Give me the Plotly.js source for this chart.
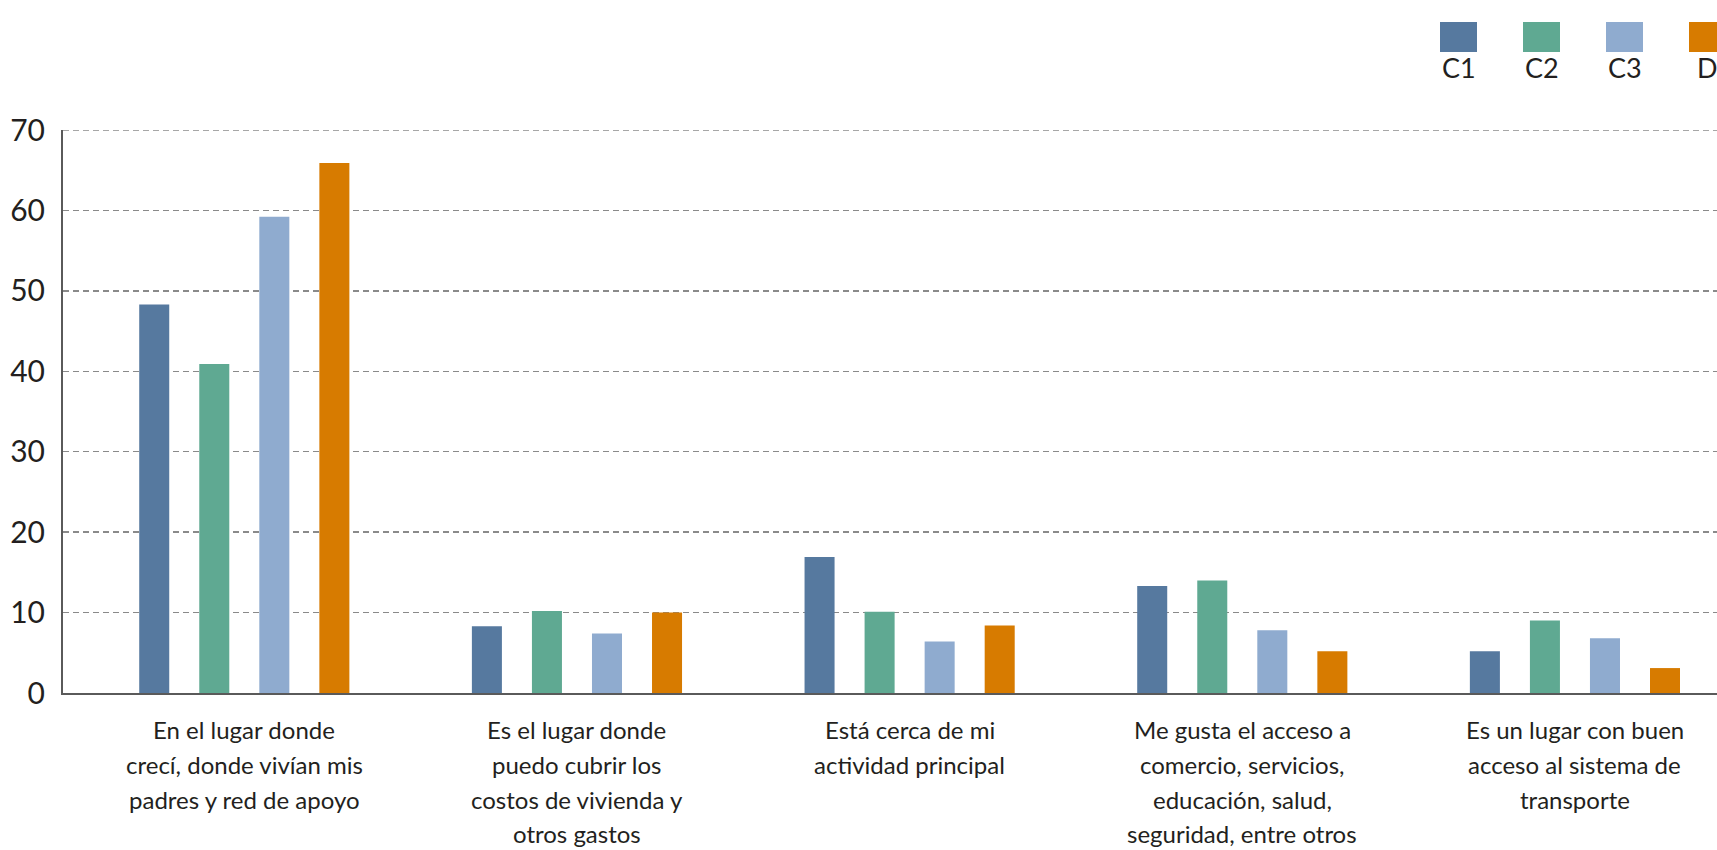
<!DOCTYPE html>
<html>
<head>
<meta charset="utf-8">
<script src="https://cdn.plot.ly/plotly-3.0.1.min.js"></script>
<style>
  html, body { margin: 0; padding: 0; background: #ffffff; }
  #chart { width: 1717px; height: 850px; }
</style>
</head>
<body>
<div id="chart"></div>
<script>
// Reasons for choosing the place of residence, % by socioeconomic group
const categories = [
  "En el lugar donde<br>crecí, donde vivían mis<br>padres y red de apoyo",
  "Es el lugar donde<br>puedo cubrir los<br>costos de vivienda y<br>otros gastos",
  "Está cerca de mi<br>actividad principal",
  "Me gusta el acceso a<br>comercio, servicios,<br>educación, salud,<br>seguridad, entre otros",
  "Es un lugar con buen<br>acceso al sistema de<br>transporte"
];
const seriesNames = ["C1", "C2", "C3", "D"];
const valuesC1 = [48.3, 8.3, 16.9, 13.3, 5.2];
const valuesC2 = [40.9, 10.2, 10.1, 14.0, 9.0];
const valuesC3 = [59.2, 7.4, 6.4, 7.8, 6.8];
const valuesD  = [65.9, 10.0, 8.4, 5.2, 3.1];
const yTickValues = [0, 10, 20, 30, 40, 50, 60, 70];

const seriesValues = [valuesC1, valuesC2, valuesC3, valuesD];
const colors = ["#56799f", "#5fa992", "#8fabcf", "#d77b00"];

const W = 1717, H = 850;
const M = { l: 63, r: 0, t: 130, b: 157 };
const plotW = W - M.l - M.r, plotH = H - M.t - M.b;
const px2x = p => (p - M.l) / plotW;
const px2y = p => (H - M.b - p) / plotH;

const FONT = "Lato, 'Open Sans', sans-serif";
const TEXT = "#231f20";
const GRID = "#8a8a8a";

const traces = seriesNames.map((name, i) => ({
  type: "bar",
  name: name,
  x: categories,
  y: seriesValues[i],
  marker: { color: colors[i], line: { width: 0 } },
  hoverinfo: "y+name"
}));

const shapes = [];
const annotations = [];

// Top gridline sits on the plot edge, so draw it explicitly
const yMax = yTickValues[yTickValues.length - 1];
shapes.push({
  type: "line", xref: "paper", yref: "y",
  x0: 0, x1: 1, y0: yMax, y1: yMax,
  line: { color: GRID, width: 1.3, dash: "6px,4px" }, layer: "below"
});

// Legend: swatch above each series name
const swatchLeft = [1440, 1523, 1606, 1689];
seriesNames.forEach((name, i) => {
  const x0 = swatchLeft[i], x1 = x0 + 37;
  shapes.push({
    type: "rect", xref: "paper", yref: "paper",
    x0: px2x(x0), x1: px2x(x1), y0: px2y(52), y1: px2y(22),
    fillcolor: colors[i], line: { width: 0 }, layer: "above"
  });
  annotations.push({
    xref: "paper", yref: "paper",
    x: px2x((x0 + x1) / 2), y: px2y(68),
    xanchor: "center", yanchor: "middle",
    text: name, showarrow: false,
    font: { family: FONT, size: 27, color: TEXT }
  });
});

// Category labels, one annotation per line for even line spacing
const lineTop = 729, linePitch = 35;
categories.forEach((cat, ci) => {
  cat.split("<br>").forEach((line, li) => {
    annotations.push({
      xref: "x", yref: "paper",
      x: ci, y: px2y(lineTop + li * linePitch),
      xanchor: "center", yanchor: "middle",
      text: line, showarrow: false,
      font: { family: FONT, size: 24, color: TEXT }
    });
  });
});

const layout = {
  width: W, height: H,
  margin: M,
  paper_bgcolor: "#ffffff",
  plot_bgcolor: "#ffffff",
  showlegend: false,
  barmode: "group",
  bargap: 0.278,
  bargroupgap: 0.5,
  font: { family: FONT, color: TEXT },
  xaxis: {
    type: "category",
    range: [-0.545, 4.427],
    showticklabels: false,
    ticks: "",
    showgrid: false,
    zeroline: false,
    showline: true,
    linecolor: "#5a5a5a",
    linewidth: 2,
    fixedrange: true
  },
  yaxis: {
    range: [0, yMax],
    tickvals: yTickValues,
    ticktext: yTickValues.map(String),
    tickfont: { family: FONT, size: 30, color: TEXT },
    ticks: "",
    ticklabelstandoff: 10,
    showgrid: true,
    gridcolor: GRID,
    gridwidth: 1.3,
    griddash: "6px,4px",
    zeroline: false,
    showline: true,
    linecolor: "#5a5a5a",
    linewidth: 2,
    fixedrange: true
  },
  shapes: shapes,
  annotations: annotations
};

Plotly.newPlot("chart", traces, layout, { displayModeBar: false, staticPlot: true });
</script>
</body>
</html>
